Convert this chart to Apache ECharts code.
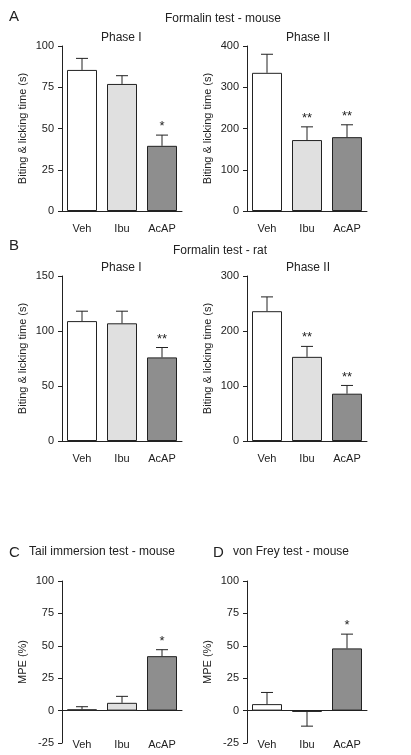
<!DOCTYPE html>
<html><head><meta charset="utf-8">
<script src="https://cdn.jsdelivr.net/npm/echarts@6/dist/echarts.min.js"></script>
<style>html,body{margin:0;padding:0;background:#fff}#chart{width:411px;height:755px}</style>
</head><body><div id="chart"></div>
<script>
var categories = ['Veh', 'Ibu', 'AcAP'];
var barColors = ['#ffffff', '#e0e0e0', '#8e8e8e'];
// mean values and error (SEM) per panel
var mouseP1Mean = [85.5, 77, 39.5], mouseP1Err = [7, 5, 6.5], mouseP1Star = ['', '', '*'];
var mouseP2Mean = [335, 172, 179], mouseP2Err = [45, 32, 30], mouseP2Star = ['', '**', '**'];
var ratP1Mean = [109, 107, 76], ratP1Err = [9, 11, 9], ratP1Star = ['', '', '**'];
var ratP2Mean = [236, 153, 86], ratP2Err = [26, 19, 15], ratP2Star = ['', '**', '**'];
var tailMean = [1, 6, 42], tailErr = [2, 5, 5], tailStar = ['', '', '*'];
var vfMean = [5, -1, 48], vfErr = [9, -11, 11], vfStar = ['', '', '*'];

var panels = [
  {left: 62, top: 46, h: 165, min: 0, max: 100, iv: 25, mean: mouseP1Mean, err: mouseP1Err, star: mouseP1Star, yname: 'Biting & licking time (s)'},
  {left: 247, top: 46, h: 165, min: 0, max: 400, iv: 100, mean: mouseP2Mean, err: mouseP2Err, star: mouseP2Star, yname: 'Biting & licking time (s)'},
  {left: 62, top: 276, h: 165, min: 0, max: 150, iv: 50, mean: ratP1Mean, err: ratP1Err, star: ratP1Star, yname: 'Biting & licking time (s)'},
  {left: 247, top: 276, h: 165, min: 0, max: 300, iv: 100, mean: ratP2Mean, err: ratP2Err, star: ratP2Star, yname: 'Biting & licking time (s)'},
  {left: 62, top: 581, h: 162, min: -25, max: 100, iv: 25, mean: tailMean, err: tailErr, star: tailStar, yname: 'MPE (%)'},
  {left: 247, top: 581, h: 162, min: -25, max: 100, iv: 25, mean: vfMean, err: vfErr, star: vfStar, yname: 'MPE (%)'}
];

var font = 'Liberation Sans, Arial, sans-serif';
var txt = {color: '#222', fontFamily: font, fontSize: 11};
var option = {animation: false, grid: [], xAxis: [], yAxis: [], series: [], title: []};

panels.forEach(function (p, k) {
  option.grid.push({left: p.left, top: p.top, width: 120, height: p.h});
  var neg = p.min < 0;
  option.xAxis.push({
    type: 'category', gridIndex: k, data: categories,
    axisLine: {onZero: true, lineStyle: {color: '#222'}},
    axisTick: {show: false}, axisLabel: {show: !neg, margin: 12, ...txt}
  });
  option.xAxis.push({
    type: 'category', gridIndex: k, data: categories, position: 'bottom',
    axisLine: {show: false, onZero: false}, axisTick: {show: false},
    axisLabel: {show: neg, margin: -4, ...txt}
  });
  option.yAxis.push({
    type: 'value', gridIndex: k, min: p.min, max: p.max, interval: p.iv,
    name: p.yname, nameLocation: 'middle', nameGap: 34, nameTextStyle: txt,
    axisLine: {show: true, onZero: false, lineStyle: {color: '#222'}},
    axisTick: {show: true, length: 4}, splitLine: {show: false}, axisLabel: {...txt}
  });
  option.series.push({
    type: 'bar', xAxisIndex: 2 * k, yAxisIndex: k, barWidth: 30,
    data: p.mean.map(function (v, i) {
      return {value: v, itemStyle: {color: barColors[i], borderColor: '#222', borderWidth: 1}};
    })
  });
  option.series.push({
    type: 'custom', xAxisIndex: 2 * k, yAxisIndex: k, z: 3,
    data: p.mean.map(function (v, i) { return [i, v, v + p.err[i], p.star[i]]; }),
    renderItem: function (params, api) {
      var a = api.coord([api.value(0), api.value(1)]);
      var b = api.coord([api.value(0), api.value(2)]);
      var s = p.star[params.dataIndex];
      var kids = [
        {type: 'line', shape: {x1: a[0], y1: a[1], x2: b[0], y2: b[1]}, style: {stroke: '#222', lineWidth: 1}},
        {type: 'line', shape: {x1: b[0] - 6, y1: b[1], x2: b[0] + 6, y2: b[1]}, style: {stroke: '#222', lineWidth: 1}}
      ];
      if (s) kids.push({type: 'text', x: b[0], y: b[1] - 2, style: {text: s, fill: '#222', fontSize: 13, fontFamily: font, align: 'center', verticalAlign: 'bottom'}});
      return {type: 'group', children: kids};
    }
  });
});

var titles = [
  ['A', 4, 4, 15], ['Formalin test - mouse', 160, 8, 12], ['Phase I', 96, 27, 12], ['Phase II', 281, 27, 12],
  ['B', 4, 233, 15], ['Formalin test - rat', 168, 240, 12], ['Phase I', 96, 257, 12], ['Phase II', 281, 257, 12],
  ['C', 4, 540, 15], ['Tail immersion test - mouse', 24, 541, 12],
  ['D', 208, 540, 15], ['von Frey test - mouse', 228, 541, 12]
];
titles.forEach(function (t) {
  option.title.push({text: t[0], left: t[1], top: t[2], textStyle: {fontFamily: font, fontSize: t[3], fontWeight: 'normal', color: '#222'}});
});

var myChart = echarts.init(document.getElementById('chart'));
myChart.setOption(option);
</script></body></html>
